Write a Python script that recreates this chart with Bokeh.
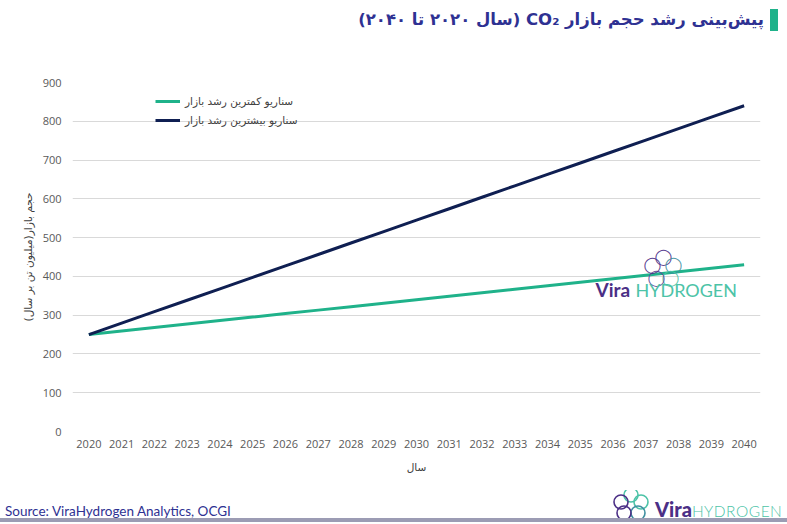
from bokeh.plotting import figure
from bokeh.layouts import column
from bokeh.models import (Label, Legend, LegendItem, FixedTicker, Range1d, Div)
from bokeh.embed import file_html
from bokeh.resources import INLINE

# ---- data ----
years = [2020, 2021, 2022, 2023, 2024, 2025, 2026, 2027, 2028, 2029, 2030,
         2031, 2032, 2033, 2034, 2035, 2036, 2037, 2038, 2039, 2040]
low_growth = [250, 259, 268, 277, 286, 295, 304, 313, 322, 331, 340,
              349, 358, 367, 376, 385, 394, 403, 412, 421, 430]
high_growth = [250, 279.5, 309, 338.5, 368, 397.5, 427, 456.5, 486, 515.5, 545,
               574.5, 604, 633.5, 663, 692.5, 722, 751.5, 781, 810.5, 840]
y_ticks = [0, 100, 200, 300, 400, 500, 600, 700, 800, 900]
low_label = "سناریو کمترین رشد بازار"
high_label = "سناریو بیشترین رشد بازار"
title_text = "پیش‌بینی رشد حجم بازار CO₂ (سال ۲۰۲۰ تا ۲۰۴۰)"
x_title = "سال"
y_title = "حجم بازار(میلیون تن بر سال)"
source_text = "Source: ViraHydrogen Analytics, OCGI"

GREEN = "#1fb28a"
NAVY = "#0f1f52"
TITLE_C = "#2e3192"
LOGO_PURPLE = "#4b2f86"
LOGO_TEAL = "#4cc3a7"

W = 787

# ---- title band ----
title_html = f"""
<div style="position:relative;width:{W}px;height:40px;background:white;overflow:hidden;">
  <div dir="rtl" style="position:absolute;right:23px;top:6px;white-space:nowrap;
       font-family:'DejaVu Sans',sans-serif;font-weight:bold;font-size:16.5px;line-height:28px;color:{TITLE_C};">{title_text}</div>
  <div style="position:absolute;left:770px;top:9px;width:8px;height:22px;background:{GREEN};"></div>
</div>
"""
title_div = Div(text=title_html, width=W, height=40, margin=0)

# ---- chart ----
p = figure(width=W, height=450, output_backend="svg", toolbar_location=None,
           x_range=Range1d(2019.5, 2040.5), y_range=Range1d(0, 900),
           min_border_left=72, min_border_right=27, min_border_top=42,
           min_border_bottom=59, margin=0)
p.outline_line_color = None
p.background_fill_color = "white"
p.border_fill_color = "white"

r_low = p.line(years, low_growth, line_color=GREEN, line_width=3)
r_high = p.line(years, high_growth, line_color=NAVY, line_width=3)

p.xgrid.visible = False
p.ygrid.grid_line_color = "#d9d9d9"
p.ygrid.grid_line_width = 1

p.xaxis.ticker = FixedTicker(ticks=years)
p.yaxis.ticker = FixedTicker(ticks=y_ticks)
for ax in (p.xaxis[0], p.yaxis[0]):
    ax.axis_line_color = None
    ax.major_tick_line_color = None
    ax.minor_tick_line_color = None
    ax.major_tick_out = 0
    ax.major_tick_in = 0
    ax.minor_tick_out = 0
    ax.major_label_text_font = "Open Sans"
    ax.major_label_text_font_size = "11px"
    ax.major_label_text_color = "#595959"
    ax.axis_label_text_font = "DejaVu Sans"
    ax.axis_label_text_font_style = "normal"
    ax.axis_label_text_font_size = "10.5px"
    ax.axis_label_text_color = "#404040"
p.xaxis.major_label_standoff = 8
p.yaxis.major_label_standoff = 11
p.xaxis.axis_label = x_title
p.yaxis.axis_label = y_title
p.xaxis.axis_label_standoff = 10
p.yaxis.axis_label_standoff = 6

legend = Legend(items=[LegendItem(label=low_label, renderers=[r_low]),
                       LegendItem(label=high_label, renderers=[r_high])],
                location=(83, 302))
legend.background_fill_alpha = 0
legend.border_line_color = None
legend.label_text_font = "DejaVu Sans"
legend.label_text_font_size = "10.5px"
legend.label_text_color = "#404040"
legend.glyph_width = 25
legend.glyph_height = 18
legend.label_height = 18
legend.label_standoff = 5
legend.spacing = 1
legend.padding = 0
legend.margin = 0
p.add_layout(legend)

# watermark logo inside the plot (screen units relative to the frame)
ring_spots = [(591, 175, LOGO_PURPLE), (601, 167, "#3f8fa0"), (598, 154, LOGO_TEAL),
              (584, 154, "#5a4a9a"), (580, 167, LOGO_PURPLE)]
for sx, sy, c in ring_spots:
    p.add_layout(Label(x=sx, y=sy, x_units="screen", y_units="screen", text="◯",
                       text_align="center", text_baseline="middle",
                       text_font="DejaVu Sans", text_font_size="16px", text_color=c,
                       text_alpha=0.9))
p.add_layout(Label(x=523, y=131, x_units="screen", y_units="screen", text="Vira",
                   text_font="Lato", text_font_size="19px", text_font_style="bold",
                   text_color=LOGO_PURPLE))
p.add_layout(Label(x=563, y=131, x_units="screen", y_units="screen", text="HYDROGEN",
                   text_font="Lato", text_font_size="18px",
                   text_color=LOGO_TEAL))

# ---- footer band ----
ring_svg = "".join(
    f'<circle cx="{cx}" cy="{cy}" r="7" fill="none" stroke="{c}" stroke-width="1.6"/>'
    for cx, cy, c in [(19, 8, LOGO_TEAL), (29, 15, LOGO_TEAL), (26, 26, "#3f8fa0"),
                      (12, 26, LOGO_PURPLE), (9, 15, LOGO_PURPLE)])
footer_html = f"""
<div style="position:relative;width:{W}px;height:34px;background:white;overflow:hidden;border-bottom:0;">
  <div style="position:absolute;left:5px;top:13px;white-space:nowrap;
       font-family:Lato,sans-serif;font-size:13.5px;line-height:16px;color:{TITLE_C};">{source_text}</div>
  <svg style="position:absolute;left:612px;top:-3px;" width="40" height="34">{ring_svg}</svg>
  <div style="position:absolute;left:655px;top:7px;white-space:nowrap;font-family:Lato,sans-serif;
       line-height:24px;">
    <span style="font-weight:900;font-size:20px;color:{LOGO_PURPLE};">Vira</span><span style="color:{LOGO_TEAL};font-weight:300;font-size:15.5px;letter-spacing:0.5px;">HYDROGEN</span>
  </div>
  <div style="position:absolute;left:0;top:28px;width:{W}px;height:4px;background:#9c9cb4;"></div>
</div>
"""
footer_div = Div(text=footer_html, width=W, height=34, margin=0)

layout = column(title_div, p, footer_div, spacing=0, margin=0)
open("out.html", "w").write(file_html(layout, INLINE))
